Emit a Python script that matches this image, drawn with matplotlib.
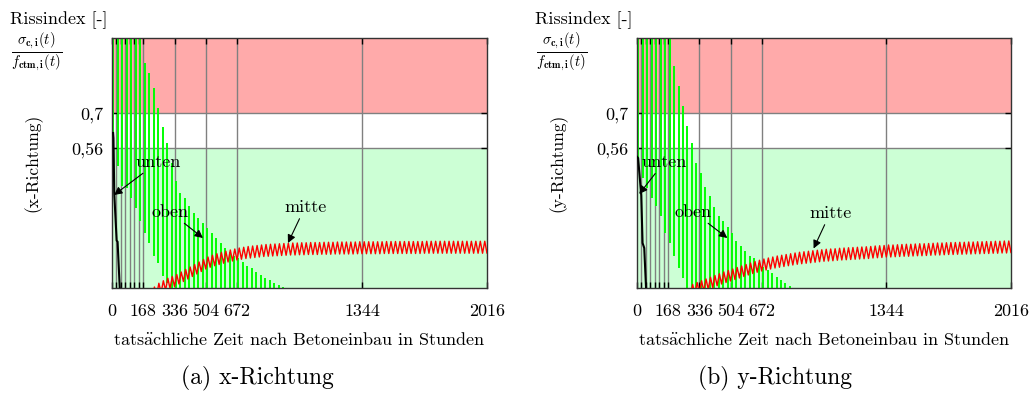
import matplotlib
matplotlib.use("Agg")
import matplotlib.pyplot as plt
import numpy as np

plt.rcParams['font.family'] = ['cmr10', 'DejaVu Serif']
plt.rcParams['mathtext.fontset'] = 'cm'
plt.rcParams['axes.formatter.use_mathtext'] = True

# x ticks (hours) and labels
xticks = [0, 24, 48, 72, 96, 120, 144, 168, 336, 504, 672, 1344, 2016]
xlabels = ['0', '', '', '', '', '', '', '168', '336', '504', '672', '1344', '2016']
yticks = [0.56, 0.7]
ylabels = ['0,56', '0,7']

# "oben": daily max / min per day (day 0, 1, 2, ...)
oben_top_x = [1.2, 1.2, 1.2, 1.2, 1.2, 1.2, 1.2, 0.90, 0.86, 0.80, 0.72, 0.645, 0.58,
              0.50, 0.43, 0.38, 0.36, 0.33, 0.30, 0.28, 0.26, 0.24, 0.22, 0.20, 0.18,
              0.16, 0.145, 0.13, 0.12, 0.105, 0.09, 0.08, 0.065, 0.052, 0.04, 0.032,
              0.02, 0.012, 0.006]
oben_low_x = [0.57, 0.49, 0.41, 0.40, 0.36, 0.32, 0.27, 0.22, 0.18, 0.13, 0.10, 0.05,
              0.02] + [-0.05] * 26
oben_top_y = [1.2, 1.2, 1.2, 1.2, 1.2, 1.2, 1.2, 1.2, 0.89, 0.81, 0.73, 0.65, 0.58,
              0.50, 0.46, 0.405, 0.37, 0.325, 0.29, 0.27, 0.245, 0.22, 0.19, 0.17,
              0.15, 0.13, 0.12, 0.10, 0.085, 0.072, 0.06, 0.045, 0.032, 0.02, 0.01]
oben_low_y = [0.48, 0.44, 0.40, 0.36, 0.33, 0.29, 0.22, 0.18, 0.13, 0.08, 0.04] + [-0.05] * 24

# "mitte": daily mean value, last day = day 84
mitte_x = [-0.020, -0.005, 0.005, 0.015, 0.022, 0.030, 0.040, 0.050, 0.060, 0.070,
           0.080, 0.090, 0.100, 0.107, 0.113, 0.118, 0.123, 0.128, 0.132, 0.136,
           0.139, 0.142, 0.144, 0.146, 0.148, 0.150, 0.151, 0.152, 0.153, 0.154,
           0.155, 0.156, 0.156, 0.157,
           0.157, 0.158, 0.158, 0.158, 0.159, 0.159, 0.159, 0.160, 0.160, 0.160,
           0.160, 0.160, 0.161, 0.161,
           0.161, 0.161, 0.161, 0.161, 0.162, 0.162, 0.162, 0.162, 0.162, 0.162,
           0.162, 0.162, 0.162, 0.163,
           0.163, 0.163, 0.163, 0.163, 0.163, 0.163, 0.163, 0.163, 0.163, 0.163,
           0.163, 0.163, 0.163, 0.163]
mitte_y = [-0.010, -0.002, 0.005, 0.012, 0.019, 0.026, 0.033, 0.040, 0.046, 0.052,
           0.058, 0.064, 0.070, 0.076, 0.082, 0.087, 0.092, 0.096, 0.100, 0.104,
           0.107, 0.110, 0.113, 0.116, 0.119, 0.121, 0.123, 0.125, 0.127, 0.129,
           0.131,
           0.132, 0.133, 0.135, 0.136, 0.137, 0.138, 0.139, 0.140, 0.141, 0.142,
           0.144, 0.145, 0.146, 0.148,
           0.148, 0.149, 0.150, 0.151, 0.151, 0.152, 0.153, 0.153, 0.154, 0.155,
           0.156, 0.156, 0.157, 0.158,
           0.158, 0.159, 0.159, 0.160, 0.160, 0.161, 0.161, 0.162, 0.162, 0.163,
           0.163, 0.164, 0.164, 0.165]
mitte_amp = 0.024

# "unten"
unten_t_x = [6, 8, 12, 25, 30, 43, 60]
unten_v_x = [0.62, 0.60, 0.38, 0.19, 0.185, -0.02, -0.02]
unten_t_y = [0, 6, 23, 30, 39, 50, 60]
unten_v_y = [0.525, 0.52, 0.37, 0.18, 0.16, -0.02, -0.02]

RED_BAND = '#ffaaaa'
GREEN_BAND = '#ccffd5'


def draw_panel(ax, top, low, mitte, ut, uv, ann):
    ax.axhspan(0.7, 1.0, color=RED_BAND, lw=0, zorder=0)
    ax.axhspan(0.0, 0.56, color=GREEN_BAND, lw=0, zorder=0)
    for x in xticks[1:-1]:
        ax.axvline(x, color='#808080', lw=1.0, zorder=1)
    for y in yticks:
        ax.axhline(y, color='#808080', lw=1.0, zorder=1)

    # oben - daily bars
    days = np.arange(len(top))
    ax.vlines(24 * days + 8, low, top, color='#00ff00', lw=1.4, zorder=2)

    # mitte - daily zigzag
    start = 85 - len(mitte)
    t = []
    v = []
    for i, c in enumerate(mitte):
        t += [24 * (start + i), 24 * (start + i) + 12]
        v += [c - mitte_amp, c + mitte_amp]
    ax.plot(t, v, color='#ff0000', lw=1.0, zorder=3)

    ax.plot(ut, uv, color='black', lw=1.5, zorder=4)

    for txt, xy, xytext in ann:
        ax.annotate(txt, xy=xy, xytext=xytext, fontsize=13, ha='center', va='center',
                    arrowprops=dict(arrowstyle='-|>', color='black', lw=0.8,
                                    mutation_scale=12, shrinkA=1, shrinkB=0),
                    zorder=5)

    ax.set_xlim(0, 2016)
    ax.set_ylim(0, 1)
    ax.set_xticks(xticks)
    ax.set_xticklabels(xlabels, fontsize=13)
    ax.set_yticks(yticks)
    ax.set_yticklabels(ylabels, fontsize=13)
    ax.tick_params(direction='in', top=True, right=True, length=4, width=1, pad=6)
    ax.tick_params(axis='x', pad=11)
    for s in ax.spines.values():
        s.set_linewidth(1.0)
        s.set_color('#333333')
    ax.set_xlabel(r'tats$\ddot{\mathrm{a}}$chliche Zeit nach Betoneinbau in Stunden',
                  fontsize=13, labelpad=9)


fig = plt.figure(figsize=(10.35, 3.94), dpi=100)
ax1 = fig.add_axes([112 / 1035, 106 / 394, 375 / 1035, 250 / 394])
ax2 = fig.add_axes([637 / 1035, 106 / 394, 374 / 1035, 250 / 394])

draw_panel(ax1, oben_top_x, oben_low_x, mitte_x, unten_t_x, unten_v_x,
           [('unten', (11, 0.372), (247, 0.504)),
            ('oben', (489, 0.2), (312, 0.304)),
            ('mitte', (946, 0.18), (1038, 0.324))])
draw_panel(ax2, oben_top_y, oben_low_y, mitte_y, unten_t_y, unten_v_y,
           [('unten', (12, 0.376), (147, 0.504)),
            ('oben', (487, 0.2), (304, 0.304)),
            ('mitte', (952, 0.158), (1041, 0.30))])

frac = r'$\frac{\sigma_{\mathbf{c,i}}(t)}{f_{\mathbf{ctm,i}}(t)}$'
for x0, lab, cap, cx in [(10, '(x-Richtung)', '(a) x-Richtung', 257),
                         (535, '(y-Richtung)', '(b) y-Richtung', 775)]:
    fig.text(x0 / 1035, 1 - 20 / 394, 'Rissindex [-]', fontsize=13, ha='left', va='center')
    fig.text((x0 + 1) / 1035, 1 - 52 / 394, frac, fontsize=15, ha='left', va='center')
    fig.text((x0 + 23) / 1035, 1 - 163 / 394, lab, fontsize=12.5, rotation=90,
             ha='center', va='center')
    fig.text(cx / 1035, 1 - 378 / 394, cap, fontsize=17, ha='center', va='center')

fig.savefig('out.png', dpi=100)
